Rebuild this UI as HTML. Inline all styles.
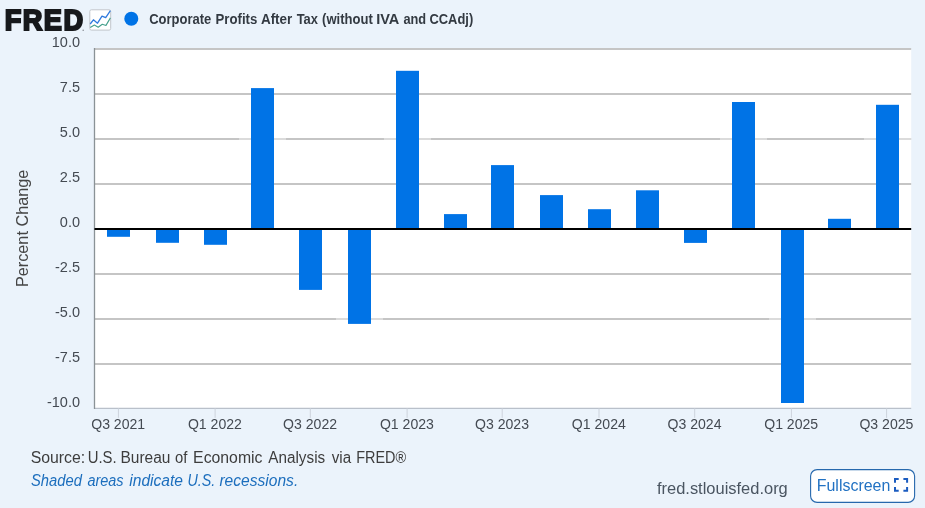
<!DOCTYPE html>
<html lang="en"><head><meta charset="utf-8"><title>FRED Graph</title>
<style>
html,body{margin:0;padding:0;background:#ebf3fb;}
body{width:925px;height:508px;overflow:hidden;position:relative;font-family:"Liberation Sans",sans-serif;}
svg{position:absolute;left:0;top:0;display:block}
text{font-family:"Liberation Sans",sans-serif}
.ax{font-size:14.5px;fill:#444a52}
.ft{font-size:16px}
</style></head><body>
<svg width="925" height="508" viewBox="0 0 925 508">
<rect x="0" y="0" width="925" height="508" fill="#ebf3fb"/>
<rect x="94.5" y="49" width="816.7" height="359.4" fill="#ffffff"/>
<line x1="94.5" x2="911.2" y1="49.0" y2="49.0" stroke="#c5c5c5" stroke-width="2"/>
<line x1="94.5" x2="911.2" y1="94.0" y2="94.0" stroke="#c5c5c5" stroke-width="2"/>
<line x1="94.5" x2="911.2" y1="139.0" y2="139.0" stroke="#c5c5c5" stroke-width="2"/>
<line x1="94.5" x2="911.2" y1="184.0" y2="184.0" stroke="#c5c5c5" stroke-width="2"/>
<line x1="94.5" x2="911.2" y1="274.0" y2="274.0" stroke="#c5c5c5" stroke-width="2"/>
<line x1="94.5" x2="911.2" y1="319.0" y2="319.0" stroke="#c5c5c5" stroke-width="2"/>
<line x1="94.5" x2="911.2" y1="364.0" y2="364.0" stroke="#c5c5c5" stroke-width="2"/>
<line x1="94.5" x2="911.2" y1="408.4" y2="408.4" stroke="#b9c0ca" stroke-width="1.2"/>
<rect x="239" y="137.8" width="47" height="2.4" fill="#ffffff" fill-opacity="0.38"/>
<rect x="384" y="137.8" width="47" height="2.4" fill="#ffffff" fill-opacity="0.38"/>
<rect x="720" y="137.8" width="47" height="2.4" fill="#ffffff" fill-opacity="0.38"/>
<rect x="864" y="137.8" width="47" height="2.4" fill="#ffffff" fill-opacity="0.38"/>
<rect x="336" y="317.8" width="47" height="2.4" fill="#ffffff" fill-opacity="0.38"/>
<rect x="769" y="317.8" width="47" height="2.4" fill="#ffffff" fill-opacity="0.38"/>
<line x1="94.5" x2="94.5" y1="48" y2="408.9" stroke="#8a9296" stroke-width="1.3"/>
<line x1="118.4" x2="118.4" y1="408.4" y2="417.9" stroke="#cdd3dc" stroke-width="1"/>
<line x1="215.1" x2="215.1" y1="408.4" y2="417.9" stroke="#cdd3dc" stroke-width="1"/>
<line x1="310.3" x2="310.3" y1="408.4" y2="417.9" stroke="#cdd3dc" stroke-width="1"/>
<line x1="407.1" x2="407.1" y1="408.4" y2="417.9" stroke="#cdd3dc" stroke-width="1"/>
<line x1="502.2" x2="502.2" y1="408.4" y2="417.9" stroke="#cdd3dc" stroke-width="1"/>
<line x1="599.0" x2="599.0" y1="408.4" y2="417.9" stroke="#cdd3dc" stroke-width="1"/>
<line x1="694.7" x2="694.7" y1="408.4" y2="417.9" stroke="#cdd3dc" stroke-width="1"/>
<line x1="791.4" x2="791.4" y1="408.4" y2="417.9" stroke="#cdd3dc" stroke-width="1"/>
<line x1="886.6" x2="886.6" y1="408.4" y2="417.9" stroke="#cdd3dc" stroke-width="1"/>
<rect x="107" y="229" width="23" height="7.8" fill="#0073e6"/>
<rect x="156" y="229" width="23" height="13.8" fill="#0073e6"/>
<rect x="204" y="229" width="23" height="15.8" fill="#0073e6"/>
<rect x="251" y="88.1" width="23" height="140.9" fill="#0073e6"/>
<rect x="299" y="229" width="23" height="60.9" fill="#0073e6"/>
<rect x="348" y="229" width="23" height="94.9" fill="#0073e6"/>
<rect x="396" y="70.8" width="23" height="158.2" fill="#0073e6"/>
<rect x="444" y="214.1" width="23" height="14.9" fill="#0073e6"/>
<rect x="491" y="165.1" width="23" height="63.9" fill="#0073e6"/>
<rect x="540" y="195.1" width="23" height="33.9" fill="#0073e6"/>
<rect x="588" y="209.2" width="23" height="19.8" fill="#0073e6"/>
<rect x="636" y="190.3" width="23" height="38.7" fill="#0073e6"/>
<rect x="684" y="229" width="23" height="13.9" fill="#0073e6"/>
<rect x="732" y="102.0" width="23" height="127.0" fill="#0073e6"/>
<rect x="781" y="229" width="23" height="174.0" fill="#0073e6"/>
<rect x="828" y="218.8" width="23" height="10.2" fill="#0073e6"/>
<rect x="876" y="104.8" width="23" height="124.2" fill="#0073e6"/>
<line x1="94.5" x2="911.2" y1="229" y2="229" stroke="#000" stroke-width="2"/>
<text class="ax" x="80" y="46.7" text-anchor="end">10.0</text>
<text class="ax" x="80" y="91.7" text-anchor="end">7.5</text>
<text class="ax" x="80" y="136.7" text-anchor="end">5.0</text>
<text class="ax" x="80" y="181.7" text-anchor="end">2.5</text>
<text class="ax" x="80" y="226.7" text-anchor="end">0.0</text>
<text class="ax" x="80" y="271.7" text-anchor="end">-2.5</text>
<text class="ax" x="80" y="316.7" text-anchor="end">-5.0</text>
<text class="ax" x="80" y="361.7" text-anchor="end">-7.5</text>
<text class="ax" x="80" y="406.7" text-anchor="end">-10.0</text>
<text class="ax" x="118.2" y="429" text-anchor="middle" textLength="54" lengthAdjust="spacingAndGlyphs">Q3 2021</text>
<text class="ax" x="214.9" y="429" text-anchor="middle" textLength="54" lengthAdjust="spacingAndGlyphs">Q1 2022</text>
<text class="ax" x="310.1" y="429" text-anchor="middle" textLength="54" lengthAdjust="spacingAndGlyphs">Q3 2022</text>
<text class="ax" x="406.9" y="429" text-anchor="middle" textLength="54" lengthAdjust="spacingAndGlyphs">Q1 2023</text>
<text class="ax" x="502.0" y="429" text-anchor="middle" textLength="54" lengthAdjust="spacingAndGlyphs">Q3 2023</text>
<text class="ax" x="598.8" y="429" text-anchor="middle" textLength="54" lengthAdjust="spacingAndGlyphs">Q1 2024</text>
<text class="ax" x="694.5" y="429" text-anchor="middle" textLength="54" lengthAdjust="spacingAndGlyphs">Q3 2024</text>
<text class="ax" x="791.2" y="429" text-anchor="middle" textLength="54" lengthAdjust="spacingAndGlyphs">Q1 2025</text>
<text class="ax" x="886.4" y="429" text-anchor="middle" textLength="54" lengthAdjust="spacingAndGlyphs">Q3 2025</text>
<text transform="translate(28.0,228.4) rotate(-90)" text-anchor="middle" font-size="16.3" fill="#454545" textLength="117.4" lengthAdjust="spacingAndGlyphs">Percent Change</text>
<text transform="translate(4.7,29.7) scale(0.952,1)" font-size="28.6" font-weight="bold" fill="#17191c" stroke="#17191c" stroke-width="2" stroke-linejoin="miter" letter-spacing="1.5">FRED</text>
<circle cx="83.2" cy="30.2" r="0.8" fill="#8a8f96"/>
<rect x="89.8" y="9.8" width="20.9" height="20.3" rx="1.6" fill="#fff" stroke="#c2c6cc" stroke-width="1"/>
<polyline points="90.2,24.0 93.4,19.8 97.5,23.2 102,16.1 105.7,17.6 110.4,10.6" fill="none" stroke="#2f7ade" stroke-width="1.3" stroke-linejoin="round"/>
<polyline points="90.2,27.5 94.4,25.1 98.2,27.2 102.3,24.2 106,25.4 110.4,17.9" fill="none" stroke="#45a08c" stroke-width="1.1" stroke-linejoin="round"/>
<circle cx="131.3" cy="18.7" r="7" fill="#0073e6"/>
<text y="23.9" font-size="14.5" font-weight="bold" fill="#333a42"><tspan x="149.18" textLength="62.1" lengthAdjust="spacingAndGlyphs">Corporate</tspan> <tspan x="215.54" textLength="41.74" lengthAdjust="spacingAndGlyphs">Profits</tspan> <tspan x="260.91" textLength="31.43" lengthAdjust="spacingAndGlyphs">After</tspan> <tspan x="296.66" textLength="21.3" lengthAdjust="spacingAndGlyphs">Tax</tspan> <tspan x="322.09" textLength="50.73" lengthAdjust="spacingAndGlyphs">(without</tspan> <tspan x="376.18" textLength="22.63" lengthAdjust="spacingAndGlyphs">IVA</tspan> <tspan x="403.41" textLength="22.74" lengthAdjust="spacingAndGlyphs">and</tspan> <tspan x="429.5" textLength="43.7" lengthAdjust="spacingAndGlyphs">CCAdj)</tspan></text>
<text y="462.8" class="ft" fill="#3d3d3d"><tspan x="30.7" textLength="54.55" lengthAdjust="spacingAndGlyphs">Source:</tspan> <tspan x="87.66" textLength="28.95" lengthAdjust="spacingAndGlyphs">U.S.</tspan> <tspan x="120.47" textLength="49.92" lengthAdjust="spacingAndGlyphs">Bureau</tspan> <tspan x="175.11" textLength="12.35" lengthAdjust="spacingAndGlyphs">of</tspan> <tspan x="193.11" textLength="69.37" lengthAdjust="spacingAndGlyphs">Economic</tspan> <tspan x="268.34" textLength="56.82" lengthAdjust="spacingAndGlyphs">Analysis</tspan> <tspan x="331.66" textLength="19.42" lengthAdjust="spacingAndGlyphs">via</tspan> <tspan x="356.2" textLength="49.93" lengthAdjust="spacingAndGlyphs">FRED®</tspan></text>
<text y="485.8" class="ft" fill="#1c6ebd" font-style="italic"><tspan x="31.0" textLength="50.9" lengthAdjust="spacingAndGlyphs">Shaded</tspan> <tspan x="87.41" textLength="36.16" lengthAdjust="spacingAndGlyphs">areas</tspan> <tspan x="129.27" textLength="53.7" lengthAdjust="spacingAndGlyphs">indicate</tspan> <tspan x="187.44" textLength="27.82" lengthAdjust="spacingAndGlyphs">U.S.</tspan> <tspan x="219.43" textLength="78.79" lengthAdjust="spacingAndGlyphs">recessions.</tspan></text>
<text y="494" class="ft" fill="#4a5561"><tspan x="656.98" textLength="130.8" lengthAdjust="spacingAndGlyphs">fred.stlouisfed.org</tspan></text>
<rect x="810.6" y="469.6" width="104" height="32.8" rx="6.5" fill="#fff" stroke="#2668ad" stroke-width="1.1"/>
<text y="491" class="ft" fill="#2272c3"><tspan x="816.76" textLength="73.54" lengthAdjust="spacingAndGlyphs">Fullscreen</tspan></text>
<path d="M895.0,482.8V479.1H898.7 M903.4,479.1H907.1V482.8 M907.1,487.0V490.7H903.4 M898.7,490.7H895.0V487.0" fill="none" stroke="#1b5cc0" stroke-width="2"/>
</svg>
</body></html>
